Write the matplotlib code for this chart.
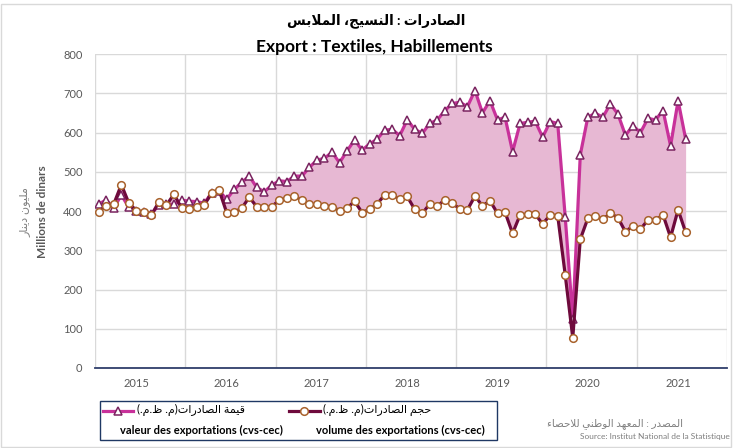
import numpy as np
import matplotlib
matplotlib.use("Agg")
import matplotlib.pyplot as plt
from matplotlib.lines import Line2D
from matplotlib.patches import Rectangle

plt.rcParams['font.family'] = ['Lato', 'DejaVu Sans']

# monthly data, Jan 2015 .. Jul 2021
years = ['2015', '2016', '2017', '2018', '2019', '2020', '2021']
value_exports = [
    418, 428, 407, 441, 409, 400, 398, 393, 415, 417, 417, 428,
    425, 424, 420, 445, 451, 430, 455, 473, 489, 460, 449, 466,
    477, 475, 489, 489, 511, 530, 534, 550, 523, 553, 581, 555,
    571, 583, 606, 608, 592, 632, 608, 598, 623, 632, 656, 674,
    677, 666, 707, 650, 681, 632, 639, 551, 623, 626, 629, 588,
    628, 623, 384, 125, 543, 639, 649, 639, 673, 647, 593, 617,
    600, 636, 632, 656, 566, 681, 584,
]
volume_exports = [
    397, 414, 418, 467, 420, 401, 397, 390, 423, 415, 443, 407,
    404, 411, 415, 445, 453, 396, 397, 407, 435, 411, 409, 411,
    428, 432, 438, 428, 417, 417, 413, 411, 401, 407, 425, 396,
    404, 418, 441, 441, 430, 437, 404, 394, 418, 413, 428, 421,
    404, 403, 438, 413, 426, 394, 397, 343, 390, 392, 392, 367,
    390, 388, 237, 77, 328, 381, 386, 379, 394, 383, 347, 362,
    354, 377, 377, 390, 333, 403, 346,
]

title_ar = "الصادرات : النسيج، الملابس"
title_fr = "Export : Textiles, Habillements"
ylabel_ar = "مليون دينار"
ylabel_fr = "Millions de dinars"
legend_ar = ["قيمة الصادرات(م. ظ.م.)", "حجم الصادرات(م. ظ.م.)"]
legend_fr = ["valeur des exportations (cvs-cec)", "volume des exportations (cvs-cec)"]
source_ar = "المصدر : المعهد الوطني للاحصاء"
source_fr = "Source: Institut National de la Statistique"

# matplotlib does no arabic shaping, so map letters to presentation forms
# (isolated, final, initial, medial); right-joining letters only have two
AR_FORMS = {
    'ا': (0xFE8D, 0xFE8E), 'د': (0xFEA9, 0xFEAA), 'ر': (0xFEAD, 0xFEAE),
    'و': (0xFEED, 0xFEEE), 'ة': (0xFE93, 0xFE94), 'ء': (0xFE80,),
    'ل': (0xFEDD, 0xFEDE, 0xFEDF, 0xFEE0), 'ص': (0xFEB9, 0xFEBA, 0xFEBB, 0xFEBC),
    'ت': (0xFE95, 0xFE96, 0xFE97, 0xFE98), 'ن': (0xFEE5, 0xFEE6, 0xFEE7, 0xFEE8),
    'س': (0xFEB1, 0xFEB2, 0xFEB3, 0xFEB4), 'ي': (0xFEF1, 0xFEF2, 0xFEF3, 0xFEF4),
    'ج': (0xFE9D, 0xFE9E, 0xFE9F, 0xFEA0), 'م': (0xFEE1, 0xFEE2, 0xFEE3, 0xFEE4),
    'ب': (0xFE8F, 0xFE90, 0xFE91, 0xFE92), 'ق': (0xFED5, 0xFED6, 0xFED7, 0xFED8),
    'ح': (0xFEA1, 0xFEA2, 0xFEA3, 0xFEA4), 'ظ': (0xFEC5, 0xFEC6, 0xFEC7, 0xFEC8),
    'ع': (0xFEC9, 0xFECA, 0xFECB, 0xFECC), 'ه': (0xFEE9, 0xFEEA, 0xFEEB, 0xFEEC),
    'ط': (0xFEC1, 0xFEC2, 0xFEC3, 0xFEC4),
}
MIRROR = {'(': ')', ')': '('}


def shape_ar(text):
    out = []
    i = 0
    while i < len(text):
        c = text[i]
        if c not in AR_FORMS:
            out.append(MIRROR.get(c, c))
            i += 1
            continue
        prev = text[i - 1] if i > 0 else ''
        joins_prev = prev in AR_FORMS and len(AR_FORMS[prev]) == 4
        # lam-alef ligature
        if c == 'ل' and i + 1 < len(text) and text[i + 1] == 'ا':
            out.append(chr(0xFEFC if joins_prev else 0xFEFB))
            i += 2
            continue
        forms = AR_FORMS[c]
        nxt = text[i + 1] if i + 1 < len(text) else ''
        joins_next = len(forms) == 4 and nxt in AR_FORMS
        if len(forms) == 1:
            f = forms[0]
        elif joins_prev and joins_next:
            f = forms[3]
        elif joins_prev:
            f = forms[1]
        elif joins_next:
            f = forms[2]
        else:
            f = forms[0]
        out.append(chr(f))
        i += 1
    return ''.join(reversed(out))


W, H = 733, 448
fig = plt.figure(figsize=(W / 100, H / 100), dpi=100)


def fx(px):
    return px / W


def fy(py):
    return 1 - py / H


# outer chart frame
fig.add_artist(Rectangle((fx(1), fy(447)), fx(730), 443 / H, transform=fig.transFigure,
                         facecolor='none', edgecolor='#D9D9D9', lw=1))

ax = fig.add_axes((fx(95), fy(368), fx(632), 314 / H))

x = np.arange(len(value_exports)) + 0.5
val = np.array(value_exports)
vol = np.array(volume_exports)

ax.fill_between(x, vol, val, color='#E7B8D3', lw=0, zorder=1)
ax.plot(x, val, color='#C8319A', lw=2.3, marker='^', markersize=6,
        markerfacecolor='white', markeredgecolor='#7A2460', markeredgewidth=1.1, zorder=3)
ax.plot(x, vol, color='#6E0A3C', lw=2.3, marker='o', markersize=5.5,
        markerfacecolor='white', markeredgecolor='#A8622C', markeredgewidth=1.1, zorder=4)

ax.set_xlim(0, 84)
ax.set_ylim(0, 800)
ax.set_yticks(np.arange(0, 801, 100))
ax.set_xticks(np.arange(0, 85, 12), minor=False)
ax.set_xticklabels([''] * 8)
ax.set_xticks(np.arange(len(years)) * 12 + 5.5, minor=True)
ax.set_xticklabels(years, minor=True)
ax.grid(True, which='major', color='#D9D9D9', lw=1)
ax.set_axisbelow(True)
for s in ['top', 'right', 'left']:
    ax.spines[s].set_visible(False)
ax.spines['bottom'].set_color('#2F3E6B')
ax.spines['bottom'].set_linewidth(1.3)
ax.spines['bottom'].set_zorder(5)
ax.tick_params(axis='y', length=0, pad=9, labelsize=8, labelcolor='#595959')
ax.tick_params(axis='x', which='both', length=0, pad=7, labelsize=8, labelcolor='#595959')

# axis title, arabic over french
fig.text(fx(25), fy(212), shape_ar(ylabel_ar), rotation=90, ha='center', va='center',
         fontsize=8, color='#7F7F7F')
fig.text(fx(42), fy(212), ylabel_fr, rotation=90, ha='center', va='center',
         fontsize=8.5, color='#595959', fontweight='bold')

# titles
fig.text(fx(376), fy(21), shape_ar(title_ar), ha='center', va='center',
         fontsize=9.8, fontweight='bold', color='black')
fig.text(fx(374), fy(47), title_fr, ha='center', va='center',
         fontsize=12.5, fontweight='bold', color='black')

# legend box
fig.add_artist(Rectangle((fx(100), fy(440)), fx(397), 39 / H, transform=fig.transFigure,
                         facecolor='white', edgecolor='#1F3864', lw=1))
fig.add_artist(Line2D([fx(103), fx(133)], [fy(411), fy(411)], transform=fig.transFigure,
                      color='#C8319A', lw=2.3))
fig.add_artist(Line2D([fx(118)], [fy(411)], transform=fig.transFigure, ls='none',
                      marker='^', markersize=6, markerfacecolor='white',
                      markeredgecolor='#7A2460', markeredgewidth=1.1))
fig.add_artist(Line2D([fx(289), fx(320)], [fy(411), fy(411)], transform=fig.transFigure,
                      color='#6E0A3C', lw=2.3))
fig.add_artist(Line2D([fx(304)], [fy(411)], transform=fig.transFigure, ls='none',
                      marker='o', markersize=5.5, markerfacecolor='white',
                      markeredgecolor='#A8622C', markeredgewidth=1.1))
fig.text(fx(137), fy(410), shape_ar(legend_ar[0]), ha='left', va='center', fontsize=8)
fig.text(fx(323), fy(410), shape_ar(legend_ar[1]), ha='left', va='center', fontsize=8)
fig.text(fx(120), fy(430), legend_fr[0], ha='left', va='center', fontsize=8,
         fontweight='bold')
fig.text(fx(316), fy(430), legend_fr[1], ha='left', va='center', fontsize=8,
         fontweight='bold')

# source
fig.text(fx(683), fy(424), shape_ar(source_ar), ha='right', va='center', fontsize=7.5,
         color='#7F7F7F')
fig.text(fx(730), fy(436), source_fr, ha='right', va='center', fontsize=6,
         color='#7F7F7F')

plt.savefig('out.png', dpi=100)
